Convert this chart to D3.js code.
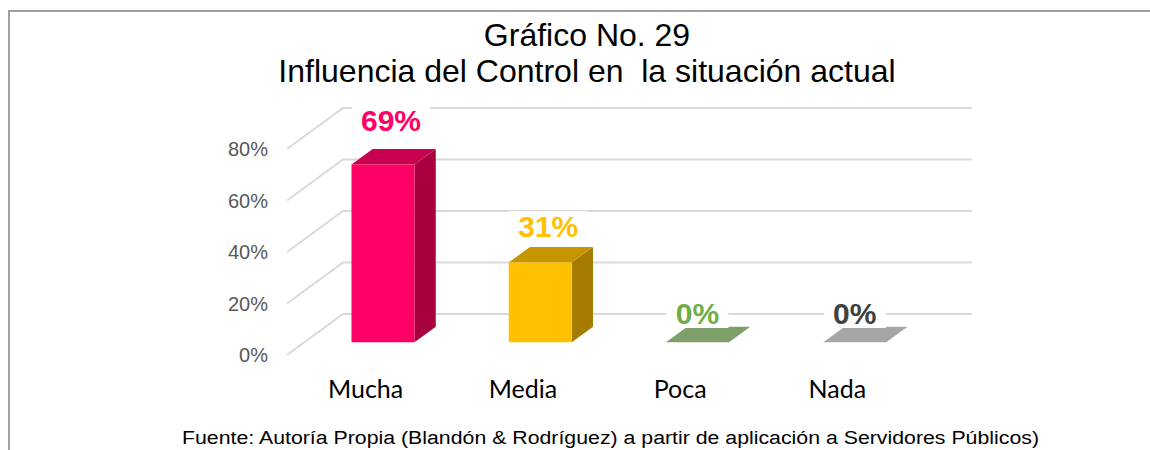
<!DOCTYPE html>
<html>
<head>
<meta charset="utf-8">
<script src="https://cdn.jsdelivr.net/npm/d3@7"></script>
<style>
  body { margin: 0; background: #fff; }
  svg text { font-family: "Liberation Sans", Arial, sans-serif; }
</style>
</head>
<body>
<div id="chart"></div>
<script>
// data
var categories = ["Mucha", "Media", "Poca", "Nada"];
var values = [0.69, 0.31, 0, 0];
var yTicks = [0, 0.2, 0.4, 0.6, 0.8];
var frontColors = ["#FF0066", "#FFC000", "#7F9F6A", "#A6A6A6"];
var topColors = ["#C70050", "#C79500", "#7F9F6A", "#A6A6A6"];
var sideColors = ["#A8003F", "#A67C00", "#64804F", "#8C8C8C"];
var labelColors = ["#FF0066", "#FFC000", "#70AD47", "#404040"];
var titleLines = ["Gráfico No. 29", "Influencia del Control en  la situación actual"];
var source = "Fuente: Autoría Propia (Blandón & Rodríguez) a partir de aplicación a Servidores Públicos)";

var w = 1150, h = 450;
var depthX = 56, depthY = -41; // full depth of the 3d box

var svg = d3.select("#chart").append("svg")
  .attr("width", w)
  .attr("height", h);

// frame
svg.append("path")
  .attr("d", "M9,450 V11 H1150")
  .attr("fill", "none")
  .attr("stroke", "#A0A0A0")
  .attr("stroke-width", 2);

var x = d3.scaleBand().domain(categories).range([287, 916]);
var y = d3.scaleLinear().domain([0, 0.8]).range([355, 149]);

// project a front-plane point to depth t (0 front .. 1 back)
function proj(px, py, t) {
  return [px + depthX * t, py + depthY * t];
}

// walls
var grid = svg.append("g").attr("stroke", "#D9D9D9").attr("stroke-width", 2).attr("fill", "none");
yTicks.forEach(function(v) {
  var a = proj(x.range()[0], y(v), 0), b = proj(x.range()[0], y(v), 1), c = proj(x.range()[1], y(v), 1);
  grid.append("path").attr("d", "M" + a + "L" + b + "L" + c);
});

svg.append("g").selectAll("text")
  .data(yTicks)
  .enter()
  .append("text")
  .attr("x", 268)
  .attr("y", function(d) { return y(d) + 7; })
  .attr("text-anchor", "end")
  .attr("fill", "#595959")
  .style("font-size", "20px")
  .text(d3.format(".0%"));

// bars
var t0 = 0.31, t1 = 0.69, barW = 63;
var bars = svg.append("g").selectAll("g")
  .data(values)
  .enter()
  .append("g");

function corners(d, i) {
  var cx = x(categories[i]) + x.bandwidth() / 2;
  var xl = cx - barW / 2, xr = cx + barW / 2;
  return {
    fbl: proj(xl, y(0), t0), fbr: proj(xr, y(0), t0),
    ftl: proj(xl, y(d), t0), ftr: proj(xr, y(d), t0),
    btl: proj(xl, y(d), t1), btr: proj(xr, y(d), t1),
    bbr: proj(xr, y(0), t1)
  };
}

bars.append("path")
  .attr("fill", function(d, i) { return sideColors[i]; })
  .attr("d", function(d, i) {
    var c = corners(d, i);
    return "M" + c.fbr + "L" + c.ftr + "L" + c.btr + "L" + c.bbr + "Z";
  });
bars.append("path")
  .attr("fill", function(d, i) { return topColors[i]; })
  .attr("d", function(d, i) {
    var c = corners(d, i);
    return "M" + c.ftl + "L" + c.ftr + "L" + c.btr + "L" + c.btl + "Z";
  });
bars.append("path")
  .attr("fill", function(d, i) { return frontColors[i]; })
  .attr("d", function(d, i) {
    var c = corners(d, i);
    return "M" + c.fbl + "L" + c.fbr + "L" + c.ftr + "L" + c.ftl + "Z";
  });

// value labels with white box
var labelY = d3.scaleLinear().domain([0, 0.8]).range([324, 100]);
var labels = svg.append("g").selectAll("g")
  .data(values)
  .enter()
  .append("g")
  .attr("transform", function(d, i) {
    var cx = x(categories[i]) + x.bandwidth() / 2 + depthX * t0 + (d > 0 ? 8 : 0);
    return "translate(" + cx + "," + labelY(d) + ")";
  });
labels.append("rect")
  .attr("x", function(d) { return d > 0 ? -39 : -31; })
  .attr("y", -26)
  .attr("width", function(d) { return d > 0 ? 78 : 62; })
  .attr("height", 30)
  .attr("fill", "#fff");
labels.append("text")
  .attr("text-anchor", "middle")
  .attr("fill", function(d, i) { return labelColors[i]; })
  .style("font-size", "30px")
  .style("font-weight", "bold")
  .text(d3.format(".0%"));

// category labels
svg.append("g").selectAll("text")
  .data(categories)
  .enter()
  .append("text")
  .attr("x", function(d) { return x(d) + x.bandwidth() / 2; })
  .attr("y", 398)
  .attr("text-anchor", "middle")
  .attr("fill", "#000")
  .style("font-family", "Lato, 'Open Sans', sans-serif")
  .style("font-size", "25px")
  .text(function(d) { return d; });

// title
svg.append("g").selectAll("text")
  .data(titleLines)
  .enter()
  .append("text")
  .attr("x", 587)
  .attr("y", function(d, i) { return 46 + i * 36; })
  .attr("text-anchor", "middle")
  .style("font-size", "32px")
  .style("white-space", "pre")
  .text(function(d) { return d; });

// source line is stretched wide in the original
svg.append("text")
  .attr("x", 182)
  .attr("y", 444)
  .attr("textLength", 857)
  .attr("lengthAdjust", "spacingAndGlyphs")
  .style("font-size", "18px")
  .text(source);
</script>
</body>
</html>
